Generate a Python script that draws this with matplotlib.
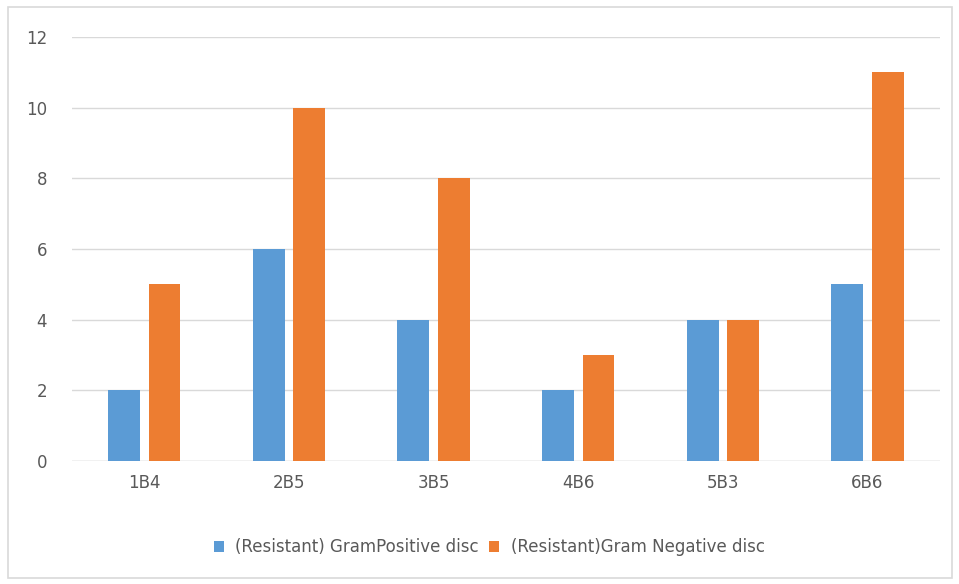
import matplotlib.pyplot as plt
import numpy as np
from matplotlib.patches import Rectangle

categories = ['1B4', '2B5', '3B5', '4B6', '5B3', '6B6']
gram_positive = [2, 6, 4, 2, 4, 5]
gram_negative = [5, 10, 8, 3, 4, 11]
series_names = ['(Resistant) GramPositive disc', '(Resistant)Gram Negative disc']

plt.rcParams['font.family'] = ['DejaVu Sans']
text_color = '#595959'

fig = plt.figure(figsize=(9.59, 5.84), dpi=100)
ax = fig.add_axes([0.075, 0.2106, 0.905, 0.726])

# light frame round the whole chart, like the Excel chart area
fig.patches.append(Rectangle((0.008, 0.01), 0.985, 0.978, transform=fig.transFigure,
                             fill=False, edgecolor='#D9D9D9', linewidth=1.2))

x = np.arange(len(categories))
width = 0.22
offset = 0.14
ax.bar(x - offset, gram_positive, width, color='#5B9BD5', label=series_names[0], zorder=3)
ax.bar(x + offset, gram_negative, width, color='#ED7D31', label=series_names[1], zorder=3)

ax.set_xlim(-0.5, len(categories) - 0.5)
ax.set_ylim(0, 12)
ax.set_yticks(range(0, 13, 2))
ax.set_xticks(x)
ax.set_xticklabels(categories)
ax.grid(axis='y', color='#D9D9D9', linewidth=1, zorder=0)
for side in ['top', 'right', 'left', 'bottom']:
    ax.spines[side].set_visible(False)
ax.axhline(0, color='#D9D9D9', linewidth=1, zorder=1)
ax.tick_params(axis='both', length=0, labelsize=12, colors=text_color)
ax.tick_params(axis='y', pad=18)
ax.tick_params(axis='x', pad=9)

leg = fig.legend(loc='center', bbox_to_anchor=(0.51, 0.063), ncol=2, frameon=False,
                 fontsize=12, handlelength=0.6, handleheight=0.6, handletextpad=0.7,
                 columnspacing=0.6)
for t in leg.get_texts():
    t.set_color(text_color)

fig.savefig('out.png', dpi=100)
